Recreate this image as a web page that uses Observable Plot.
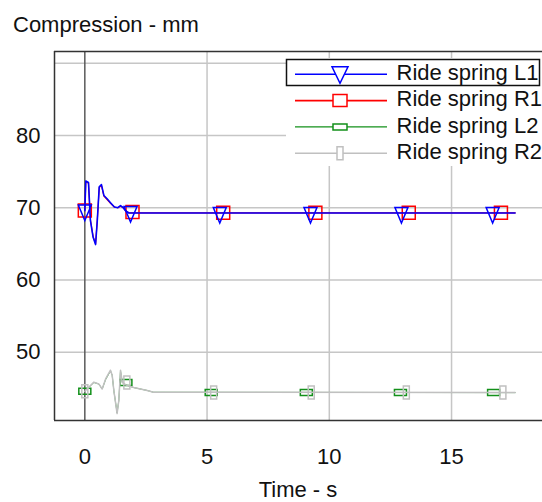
<!DOCTYPE html>
<html>
<head>
<meta charset="utf-8">
<script src="https://cdn.jsdelivr.net/npm/d3@7"></script>
<script src="https://cdn.jsdelivr.net/npm/@observablehq/plot@0.6"></script>
<style>
  html, body { margin: 0; padding: 0; background: #fff; }
  #chart svg { display: block; }
</style>
</head>
<body>
<div id="chart"></div>
<script>
// Ride spring compression over time (mm vs s)

// Ride spring L1 (front left) trace
const l1Time  = [0, 0.04, 0.15, 0.23, 0.34, 0.44, 0.51, 0.59, 0.68, 0.78, 0.92, 1.05, 1.21, 1.35, 1.46, 1.57, 1.66, 1.80, 17.6];
const l1Value = [69.6, 73.7, 73.5, 68.2, 65.9, 64.9, 68.2, 72.9, 73.2, 71.7, 71.2, 70.7, 70.1, 70.0, 70.3, 70.0, 69.6, 69.27, 69.27];
// Ride spring R1 (front right) trace
const r1Time  = [0, 0.04, 0.15, 0.23, 0.34, 0.44, 0.51, 0.59, 0.68, 0.78, 0.92, 1.05, 1.21, 1.35, 1.46, 1.57, 1.66, 1.80, 17.6];
const r1Value = [69.6, 73.6, 73.4, 68.3, 66.0, 65.0, 68.3, 72.8, 73.1, 71.6, 71.1, 70.6, 70.1, 70.0, 70.2, 70.0, 69.6, 69.3, 69.3];
// Ride spring L2 (rear left) trace
const l2Time  = [0, 0.37, 0.57, 0.71, 0.85, 1.05, 1.12, 1.19, 1.32, 1.39, 1.46, 1.53, 1.66, 2.0, 2.55, 2.81, 17.6];
const l2Value = [44.6, 45.8, 45.6, 44.9, 46.2, 47.4, 46.8, 44.6, 41.6, 43.3, 47.4, 45.8, 45.5, 45.1, 44.7, 44.45, 44.4];
// Ride spring R2 (rear right) trace
const r2Time  = [0, 0.37, 0.57, 0.71, 0.85, 1.05, 1.12, 1.19, 1.32, 1.39, 1.46, 1.53, 1.66, 2.0, 2.55, 2.81, 17.6];
const r2Value = [44.6, 45.85, 45.6, 44.9, 46.3, 47.5, 46.8, 44.6, 41.5, 43.3, 47.5, 45.85, 45.5, 45.1, 44.7, 44.45, 44.4];

// Sample points where each series shows its marker
const l1MarkTime  = [0, 1.87, 5.52, 9.23, 12.95, 16.68];
const l1MarkValue = [69.6, 69.4, 69.27, 69.27, 69.27, 69.27];
const r1MarkTime  = [0, 1.95, 5.66, 9.43, 13.25, 17.02];
const r1MarkValue = [69.6, 69.4, 69.3, 69.3, 69.3, 69.3];
const l2MarkTime  = [0, 1.68, 5.17, 9.06, 12.91, 16.72];
const l2MarkValue = [44.6, 45.8, 44.4, 44.4, 44.4, 44.4];
const r2MarkTime  = [0, 1.72, 5.27, 9.26, 13.15, 17.1];
const r2MarkValue = [44.6, 45.8, 44.4, 44.4, 44.4, 44.4];

const seriesNames = ["Ride spring L1", "Ride spring R1", "Ride spring L2", "Ride spring R2"];

// Axes
const xDomain = [-1.24, 18.72];
const yDomain = [40.54, 91.63];
const xTicks = [0, 5, 10, 15];
const yTicks = [50, 60, 70, 80];
const xGrid = [5, 10, 15];
const yGrid = [50, 60, 70, 80, 90];

const titleText = "Compression - mm";
const xLabelText = "Time - s";

// Marker shapes (drawn around the data point)
function triangleDown(w, top, bottom) {
  return {draw(ctx) { ctx.moveTo(-w / 2, -top); ctx.lineTo(w / 2, -top); ctx.lineTo(0, bottom); ctx.closePath(); }};
}
function box(w, h) {
  return {draw(ctx) { ctx.rect(-w / 2, -h / 2, w, h); }};
}
function pathOf(sym) {
  const p = d3.path();
  sym.draw(p);
  return p.toString();
}

const styles = [
  {name: seriesNames[0], color: "#0000ff", width: 1.6, legendWidth: 1.6, sym: triangleDown(13, 5.5, 10), legendSym: triangleDown(16, 7.5, 9)},
  {name: seriesNames[1], color: "#ff0000", width: 1.2, legendWidth: 1.6, sym: box(13, 13), legendSym: box(14, 12)},
  {name: seriesNames[2], color: "#13901a", width: 0.8, legendWidth: 1.4, sym: box(12, 6), legendSym: box(14, 6)},
  {name: seriesNames[3], color: "#c0c0c0", width: 1.5, legendWidth: 1.4, sym: box(6, 13), legendSym: box(6, 13)}
];

const zip = (ts, vs) => ts.map((t, i) => ({t, v: vs[i]}));
const traces = [zip(l1Time, l1Value), zip(r1Time, r1Value), zip(l2Time, l2Value), zip(r2Time, r2Value)];
const marks = [zip(l1MarkTime, l1MarkValue), zip(r1MarkTime, r1MarkValue), zip(l2MarkTime, l2MarkValue), zip(r2MarkTime, r2MarkValue)];

// Drawing order: R1, L1, L2, R2
const order = [1, 0, 2, 3];
const seriesMarks = order.flatMap(i => [
  Plot.line(traces[i], {x: "t", y: "v", stroke: styles[i].color, strokeWidth: styles[i].width}),
  Plot.dot(marks[i], {x: "t", y: "v", symbol: styles[i].sym, fill: "none", stroke: styles[i].color, strokeWidth: 1.5})
]);

const chart = Plot.plot({
  width: 542,
  height: 502,
  marginLeft: 54,
  marginRight: 0,
  marginTop: 51,
  marginBottom: 82,
  style: {fontFamily: "'Liberation Sans', Arial, sans-serif", fontSize: "22px", color: "#111", background: "#fff"},
  x: {domain: xDomain},
  y: {domain: yDomain},
  marks: [
    Plot.gridY({ticks: yGrid, stroke: "#c6c6c6", strokeOpacity: 1, strokeWidth: 1.5}),
    Plot.gridX({ticks: xGrid, stroke: "#c6c6c6", strokeOpacity: 1, strokeWidth: 1.5}),
    Plot.ruleX([0], {stroke: "#5a5a5a", strokeWidth: 1.5}),
    Plot.ruleX([xDomain[0]], {stroke: "#333", strokeWidth: 1.5}),
    Plot.ruleY(yDomain, {stroke: "#333", strokeWidth: 1.5}),
    Plot.axisX({ticks: xTicks, tickSize: 0, tickPadding: 28, label: null}),
    Plot.axisY({ticks: yTicks, tickSize: 0, tickPadding: 14, label: null}),
    ...seriesMarks
  ]
});

document.getElementById("chart").appendChild(chart);

// Title, axis label and legend
const svg = d3.select(chart);
svg.append("text")
  .attr("x", 13).attr("y", 32)
  .attr("text-anchor", "start")
  .attr("fill", "#111")
  .text(titleText);
svg.append("text")
  .attr("x", 298).attr("y", 497)
  .attr("text-anchor", "middle")
  .attr("fill", "#111")
  .text(xLabelText);

const legend = svg.append("g").attr("text-anchor", "start");
legend.append("rect")
  .attr("x", 286).attr("y", 58).attr("width", 256).attr("height", 108)
  .attr("fill", "#fff");
styles.forEach((s, i) => {
  const y = 74.3 + i * 26.3;
  legend.append("line")
    .attr("x1", 295).attr("x2", 387).attr("y1", y).attr("y2", y)
    .attr("stroke", s.color).attr("stroke-width", s.legendWidth);
  legend.append("path")
    .attr("d", pathOf(s.legendSym))
    .attr("transform", `translate(340,${y})`)
    .attr("fill", "#fff").attr("stroke", s.color).attr("stroke-width", 1.5);
  legend.append("text")
    .attr("x", 396.5).attr("y", y + 5.8)
    .attr("fill", "#111")
    .text(s.name);
});
legend.append("rect")
  .attr("x", 286.5).attr("y", 59.5).attr("width", 253).attr("height", 26)
  .attr("fill", "none").attr("stroke", "#111").attr("stroke-width", 1.5);
</script>
</body>
</html>
